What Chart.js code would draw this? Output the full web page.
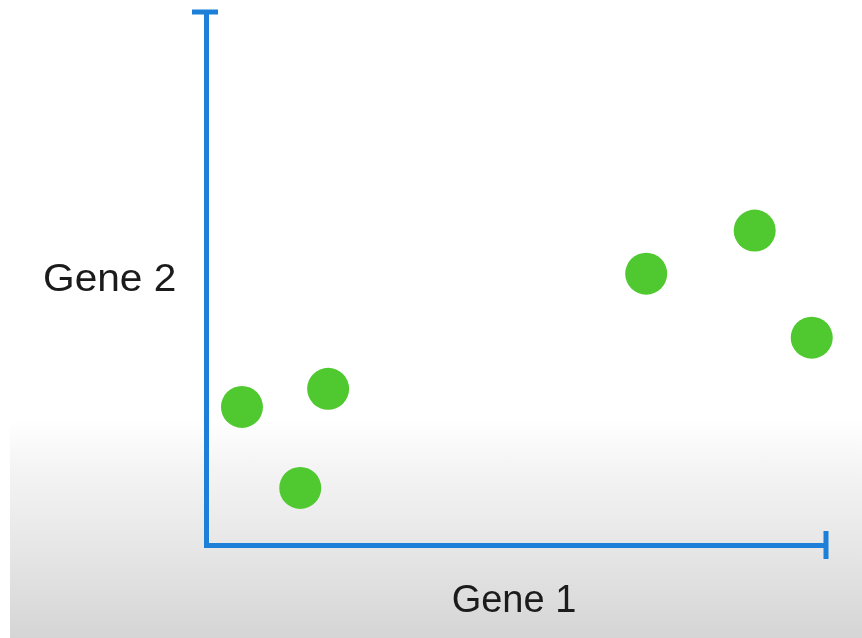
<!DOCTYPE html>
<html>
<head>
<meta charset="utf-8">
<script src="https://cdn.jsdelivr.net/npm/chart.js@4.4.1/dist/chart.umd.min.js"></script>
<style>
  html, body { margin: 0; padding: 0; }
  body {
    width: 862px; height: 638px; overflow: hidden;
    background: linear-gradient(to bottom, #ffffff 0px, #ffffff 420px, #f4f4f4 468px, #e7e7e7 545px, #d5d5d5 638px);
  }
  #strip { position: absolute; left: 0; top: 0; width: 10px; height: 638px; background: #fff; }
  #wrap { position: absolute; left: 0; top: 0; width: 862px; height: 638px; }
</style>
</head>
<body>
<div id="strip"></div>
<div id="wrap"><canvas id="chart" width="862" height="638"></canvas></div>
<script>
// values (axis runs 0..10 both ways)
const gene1 = [0.58, 1.97, 1.52, 7.10, 8.85, 9.77];
const gene2 = [2.59, 2.93, 1.07, 5.09, 5.90, 3.89];
const xLabel = "Gene 1";
const yLabel = "Gene 2";

const AXIS_BLUE = "#1c80d8";
const DOT_GREEN = "#4fc92f";

const points = gene1.map((x, i) => ({ x: x, y: gene2[i] }));

// end caps on the axes + horizontal axis labels
const axisDeco = {
  id: "axisDeco",
  afterDraw(chart) {
    const ctx = chart.ctx;
    const xs = chart.scales.x, ys = chart.scales.y;
    const x0 = xs.getPixelForValue(xs.min), x1 = xs.getPixelForValue(xs.max);
    const y0 = ys.getPixelForValue(ys.min), y1 = ys.getPixelForValue(ys.max);
    ctx.save();
    ctx.strokeStyle = AXIS_BLUE;
    ctx.lineWidth = 5;
    ctx.lineCap = "butt";
    ctx.beginPath();
    ctx.moveTo(x0 - 14, y1); ctx.lineTo(x0 + 12, y1);
    ctx.moveTo(x1, y0 - 14); ctx.lineTo(x1, y0 + 14);
    ctx.stroke();

    ctx.fillStyle = "#1b1b1b";
    ctx.font = "38px 'Liberation Sans', Arial, sans-serif";
    ctx.textBaseline = "alphabetic";
    ctx.textAlign = "center";
    ctx.fillText(xLabel, 514, 612);

    ctx.translate(43, 291);
    ctx.scale(1.07, 1);
    ctx.textAlign = "left";
    ctx.fillText(yLabel, 0, 0);
    ctx.restore();
  }
};

const CHART = document.getElementById("chart");
let scatterChart = new Chart(CHART, {
  type: 'scatter',
  data: {
    datasets: [{
      data: points,
      backgroundColor: DOT_GREEN,
      borderColor: DOT_GREEN,
      borderWidth: 0,
      pointRadius: 21,
      pointHoverRadius: 21,
      clip: false
    }]
  },
  options: {
    responsive: false,
    animation: false,
    events: [],
    layout: { autoPadding: false, padding: { left: 206, right: 36, top: 12, bottom: 93 } },
    plugins: { legend: { display: false }, tooltip: { enabled: false } },
    scales: {
      x: {
        type: 'linear', min: 0, max: 10,
        grid: { display: false, drawTicks: false },
        ticks: { display: false },
        border: { display: true, color: AXIS_BLUE, width: 5 },
        afterFit(s) { s.height = 0; s.paddingLeft = 0; s.paddingRight = 0; }
      },
      y: {
        type: 'linear', min: 0, max: 10,
        grid: { display: false, drawTicks: false },
        ticks: { display: false },
        border: { display: true, color: AXIS_BLUE, width: 5 },
        afterFit(s) { s.width = 0; s.paddingTop = 0; s.paddingBottom = 0; }
      }
    }
  },
  plugins: [axisDeco]
});
</script>
</body>
</html>
